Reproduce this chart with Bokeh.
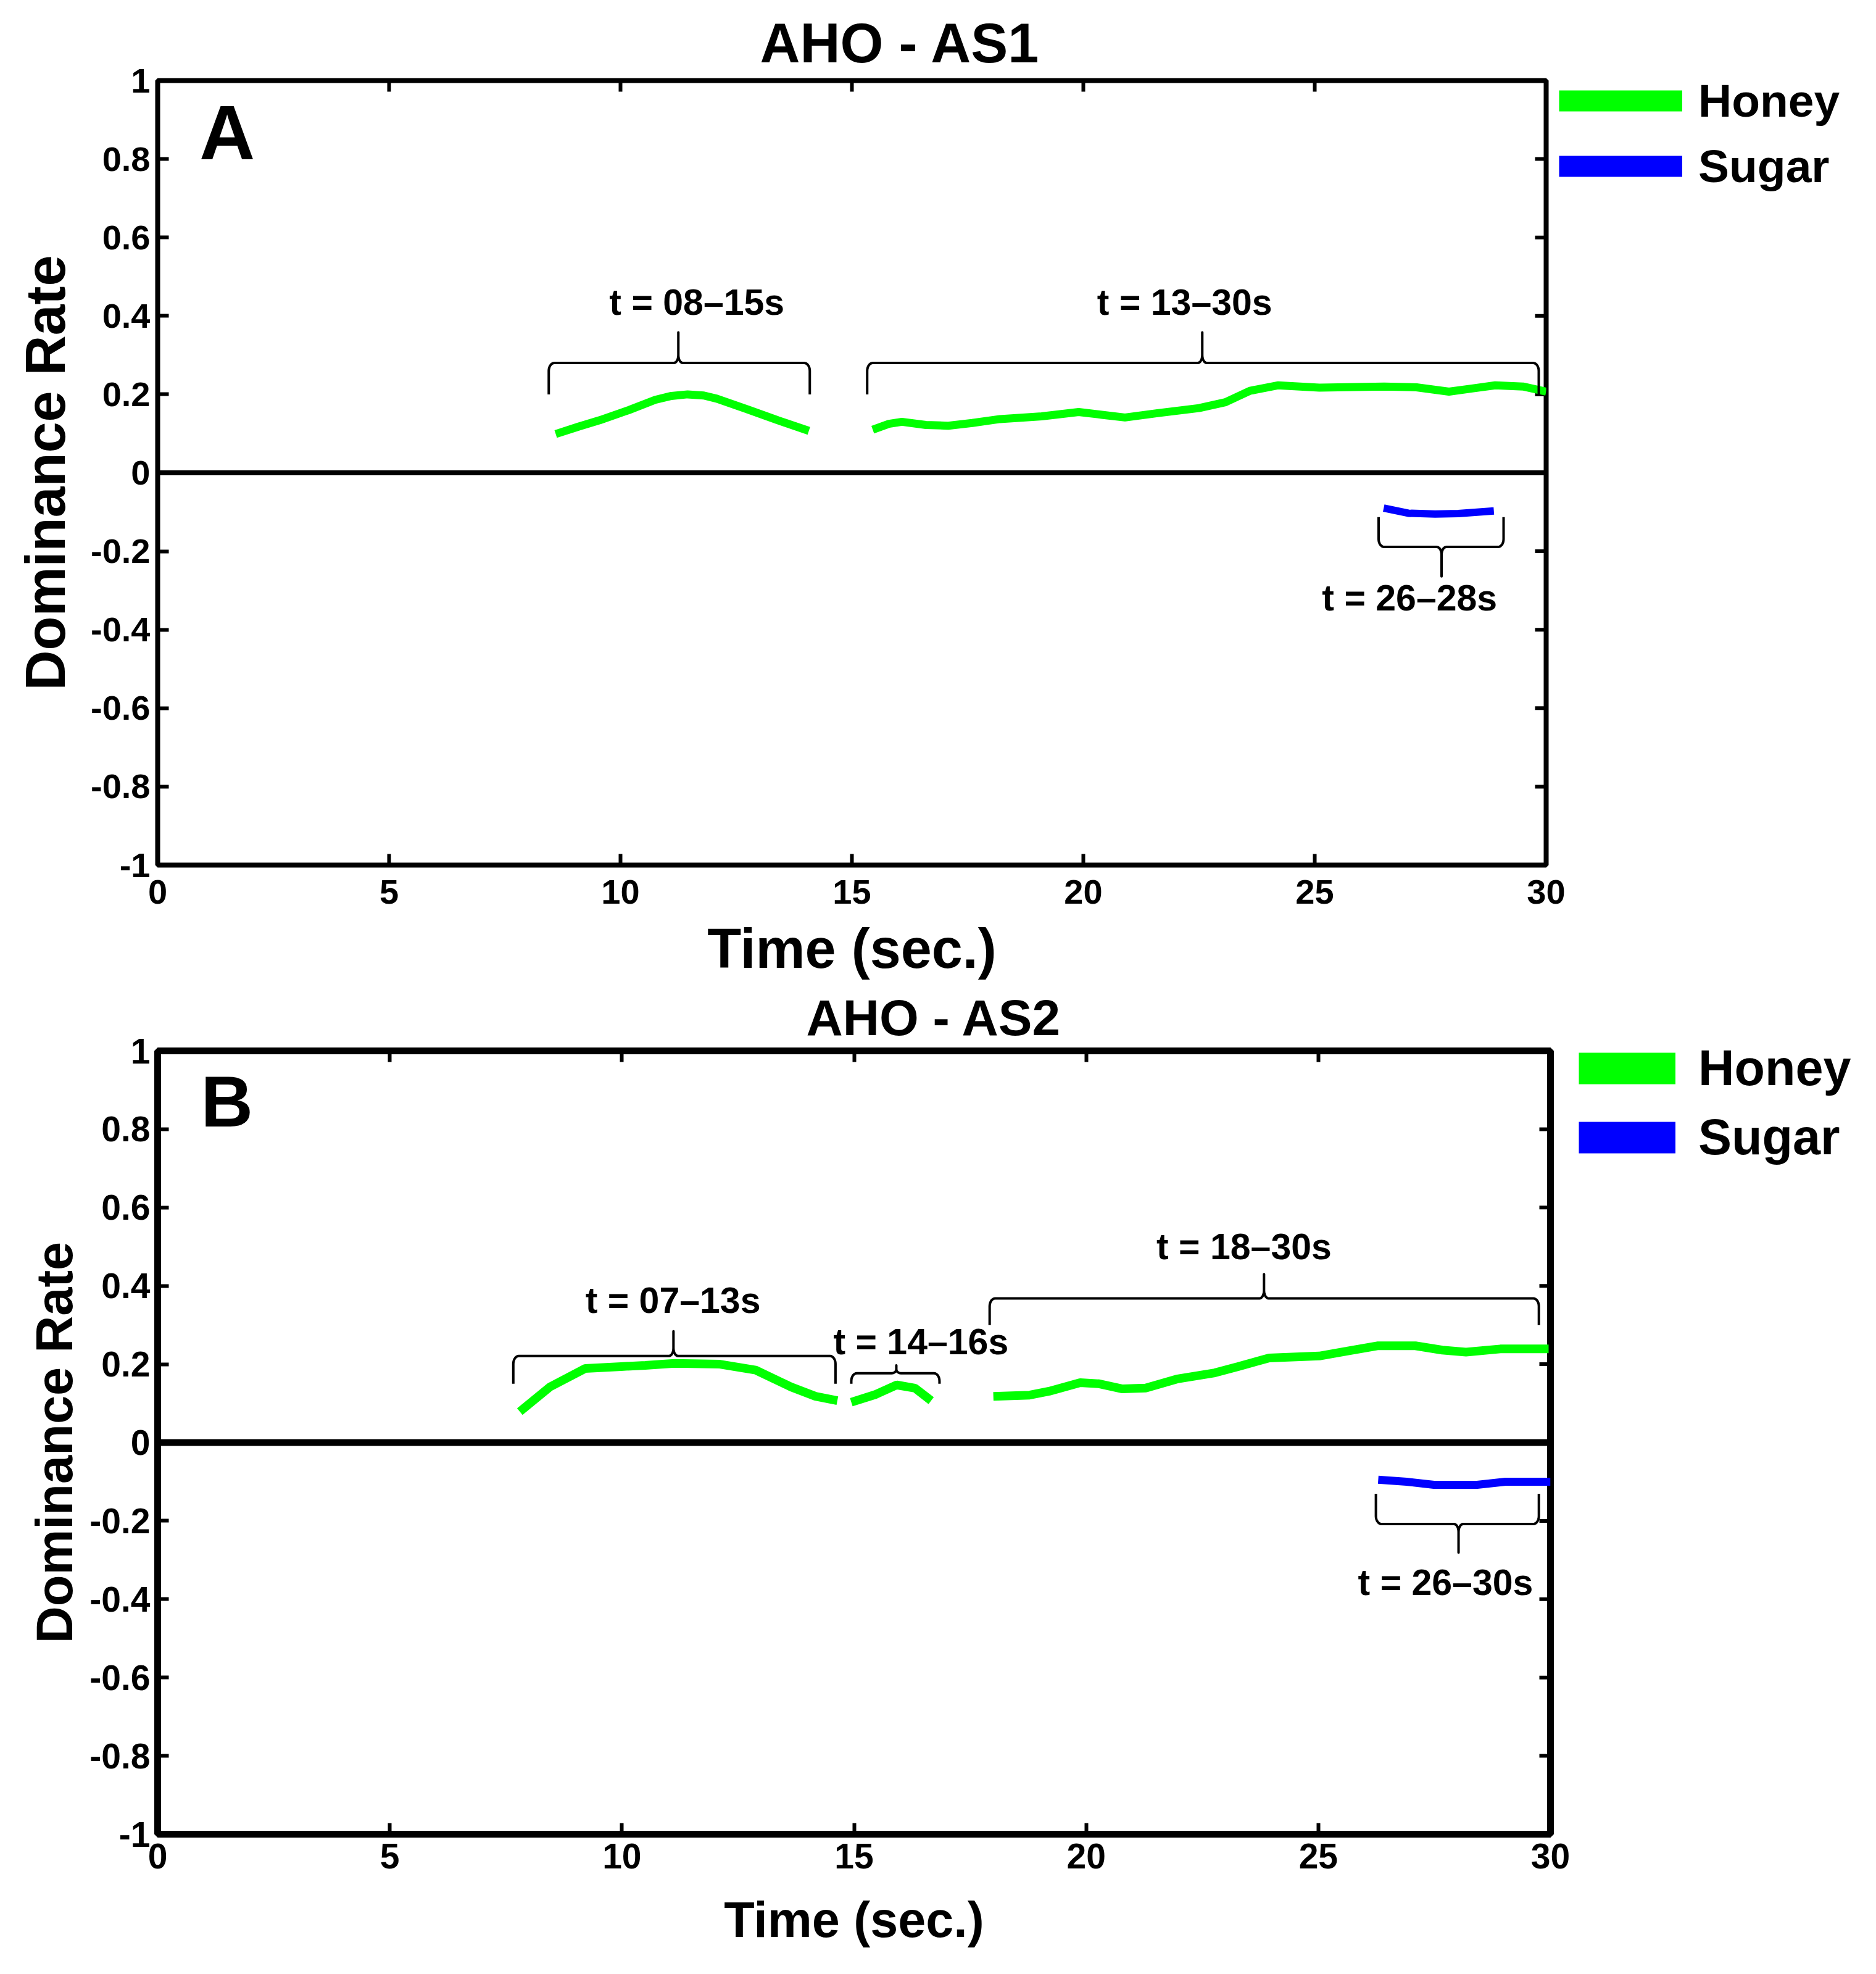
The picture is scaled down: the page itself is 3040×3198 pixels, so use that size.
import numpy as np
from bokeh.plotting import figure
from bokeh.models import (ColumnDataSource, LinearAxis, FixedTicker, PrintfTickFormatter,
                          Span, Label, Legend, LegendItem, Range1d)
from bokeh.layouts import column
from bokeh.core.properties import value
from bokeh.embed import file_html
from bokeh.resources import INLINE

FONT = "Liberation Sans"
GREEN = "#00ff00"
BLUE = "#0000ff"

x_ticks = [0, 5, 10, 15, 20, 25, 30]
y_ticks = [-1, -0.8, -0.6, -0.4, -0.2, 0, 0.2, 0.4, 0.6, 0.8, 1]

# --- panel A: AHO - AS1 ---
a_honey1_t = [8.60, 9.10, 9.55, 10.18, 10.75, 11.10, 11.45, 11.80, 12.08, 12.74, 13.40, 14.07]
a_honey1_v = [0.099, 0.118, 0.134, 0.160, 0.186, 0.196, 0.200, 0.197, 0.189, 0.162, 0.134, 0.107]
a_honey2_t = [15.45, 15.80, 16.08, 16.60, 17.08, 17.60, 18.20, 19.10, 19.90, 20.40, 20.90, 21.60,
              22.50, 23.07, 23.60, 24.20, 25.10, 26.50, 27.20, 27.90, 28.40, 28.90, 29.50, 30.00]
a_honey2_v = [0.110, 0.125, 0.130, 0.122, 0.120, 0.127, 0.137, 0.144, 0.155, 0.148, 0.141, 0.152,
              0.165, 0.180, 0.209, 0.223, 0.217, 0.220, 0.218, 0.207, 0.215, 0.223, 0.220, 0.207]
a_sugar_t = [26.49, 27.02, 27.60, 28.10, 28.87]
a_sugar_v = [-0.090, -0.103, -0.105, -0.104, -0.097]

a_br_start = [8.45, 15.33, 26.38]
a_br_end = [14.09, 29.84, 29.08]
a_br_mid = [11.25, 22.57, 27.74]
a_br_arm = [0.20, 0.20, -0.113]
a_br_bar = [0.28, 0.28, -0.189]
a_br_tip = [0.358, 0.358, -0.264]
a_lab_text = ["t = 08–15s", "t = 13–30s", "t = 26–28s"]
a_lab_t = [11.65, 22.19, 27.05]
a_lab_v = [0.435, 0.435, -0.32]

# --- panel B: AHO - AS2 ---
b_honey1_t = [7.80, 8.45, 9.21, 9.98, 10.50, 11.13, 12.11, 12.88, 13.64, 14.17, 14.64]
b_honey1_v = [0.079, 0.142, 0.189, 0.194, 0.197, 0.202, 0.200, 0.185, 0.142, 0.118, 0.107]
b_honey2_t = [14.94, 15.47, 15.92, 16.31, 16.66]
b_honey2_v = [0.103, 0.123, 0.147, 0.139, 0.107]
b_honey3_t = [18.00, 18.78, 19.20, 19.87, 20.28, 20.78, 21.28, 21.95, 22.77, 23.27, 23.94, 25.02,
              25.60, 26.27, 27.09, 27.67, 28.18, 28.92, 29.96]
b_honey3_v = [0.118, 0.121, 0.131, 0.153, 0.150, 0.137, 0.139, 0.162, 0.178, 0.194, 0.216, 0.221,
              0.233, 0.247, 0.247, 0.236, 0.231, 0.239, 0.239]
b_sugar_t = [26.29, 26.90, 27.49, 28.42, 29.03, 30.00]
b_sugar_v = [-0.095, -0.100, -0.108, -0.108, -0.100, -0.100]

b_br_start = [7.66, 14.94, 17.92, 26.24]
b_br_end = [14.60, 16.84, 29.75, 29.75]
b_br_mid = [11.11, 15.91, 23.83, 28.02]
b_br_arm = [0.15, 0.15, 0.30, -0.131]
b_br_bar = [0.221, 0.177, 0.368, -0.208]
b_br_tip = [0.284, 0.197, 0.43, -0.281]
b_lab_text = ["t = 07–13s", "t = 14–16s", "t = 18–30s", "t = 26–30s"]
b_lab_t = [11.10, 16.44, 23.40, 27.74]
b_lab_v = [0.363, 0.257, 0.50, -0.358]


def brace(x0, x1, xm, y_arm, y_bar, y_tip, rx=0.12, ry=0.02, cx=0.10, cy=0.02):
    # curly bracket path in data units; tip points away from the arms
    d = 1.0 if y_tip > y_bar else -1.0
    ry = min(ry, abs(y_bar - y_arm) * 0.8)
    cy = min(cy, abs(y_tip - y_bar) * 0.5)
    q = np.linspace(0, np.pi / 2, 8)
    xs = [x0]
    rel = [(y_arm - y_bar) * d]
    th = np.pi - q
    xs += list(x0 + rx + rx * np.cos(th)); rel += list(-ry + ry * np.sin(th))
    th = -np.pi / 2 + q
    xs += list(xm - cx + cx * np.cos(th)); rel += list(cy + cy * np.sin(th))
    xs += [xm]; rel += [(y_tip - y_bar) * d]
    th = np.pi + q
    xs += list(xm + cx + cx * np.cos(th)); rel += list(cy + cy * np.sin(th))
    th = np.pi / 2 - q
    xs += list(x1 - rx + rx * np.cos(th)); rel += list(-ry + ry * np.sin(th))
    xs += [x1]; rel += [(y_arm - y_bar) * d]
    return xs, [y_bar + d * r for r in rel]


def make_panel(title, honey, sugar, brackets, labels, letter, g):
    p = figure(frame_width=g["fw"], frame_height=g["fh"],
               x_range=Range1d(0, 30), y_range=Range1d(-1, 1),
               output_backend="svg", toolbar_location=None, tools="",
               min_border_left=g["left"], min_border_right=g["right"],
               min_border_top=g["top"], min_border_bottom=g["bottom"])
    p.background_fill_color = "white"
    p.border_fill_color = "white"
    p.xgrid.grid_line_color = None
    p.ygrid.grid_line_color = None
    p.outline_line_color = "black"
    p.outline_line_width = g["lw"]
    p.outline_line_alpha = 1

    p.title.text = title
    p.title.align = "left"
    p.title.offset = g["title_offset"]
    p.title.text_font = FONT
    p.title.text_font_style = "bold"
    p.title.text_font_size = g["title_size"]
    p.title.text_color = "black"
    p.title.standoff = g["title_standoff"]

    for ax, dim in ((p.xaxis[0], "x"), (p.yaxis[0], "y")):
        ax.ticker = FixedTicker(ticks=x_ticks if dim == "x" else y_ticks)
        ax.formatter = PrintfTickFormatter(format="%g")
        ax.axis_line_color = None
        ax.major_tick_in = 18
        ax.major_tick_out = 0
        ax.major_tick_line_width = 6
        ax.minor_tick_line_color = None
        ax.major_label_text_font = FONT
        ax.major_label_text_font_style = "bold"
        ax.major_label_text_font_size = g["tick_size"]
        ax.major_label_text_color = "black"
        ax.axis_label_text_font = FONT
        ax.axis_label_text_font_style = "bold"
        ax.axis_label_text_color = "black"
    p.xaxis.axis_label = "Time (sec.)"
    p.yaxis.axis_label = "Dominance Rate"
    p.xaxis.axis_label_text_font_size = g["xlabel_size"]
    p.yaxis.axis_label_text_font_size = g["ylabel_size"]
    p.xaxis.major_label_standoff = g["xtick_standoff"]
    p.xaxis.axis_label_standoff = g["xlabel_standoff"]
    p.yaxis.major_label_standoff = 12
    p.yaxis.axis_label_standoff = g["ylabel_standoff"]

    # mirrored tick marks on the top edge (unlabelled axis) and the right edge
    top_ax = LinearAxis(ticker=FixedTicker(ticks=x_ticks), axis_line_color=None,
                        major_tick_in=18, major_tick_out=0, major_tick_line_width=6,
                        minor_tick_line_color=None, major_label_text_font_size="1px",
                        major_label_text_color=None, major_label_standoff=0)
    p.add_layout(top_ax, "above")
    p.ray(x=[x_ticks[-1]] * len(y_ticks), y=y_ticks, length=18, length_units="screen",
          angle=np.pi, line_color="black", line_width=6)

    p.add_layout(Span(location=0, dimension="width", line_color="black", line_width=g["lw"]))

    for seg_t, seg_v in honey:
        p.line(seg_t, seg_v, line_color=GREEN, line_width=g["curve_w"])
    p.line(sugar[0], sugar[1], line_color=BLUE, line_width=g["curve_w"] - 1)

    bxs, bys = [], []
    for x0, x1, xm, ya, yb, yt in zip(*brackets):
        xs, ys = brace(x0, x1, xm, ya, yb, yt)
        bxs.append(xs)
        bys.append(ys)
    p.multi_line(xs=bxs, ys=bys, line_color="black", line_width=4, line_join="round")

    lab_src = ColumnDataSource(dict(x=labels[1], y=labels[2], text=labels[0]))
    p.text(x="x", y="y", text="text", source=lab_src, text_align="center",
           text_baseline="middle", text_font=value(FONT), text_font_style="bold",
           text_font_size=g["ann_size"], text_color="black")

    p.add_layout(Label(x=letter[1], y=letter[2], text=letter[0], text_font=FONT,
                       text_font_style="bold", text_font_size=g["letter_size"],
                       text_color="black", text_baseline="alphabetic", text_align="left"))

    # legend swatches: thick bars, like the original key
    honey_key = p.line([np.nan], [np.nan], line_color=GREEN, line_width=g["key_w"])
    sugar_key = p.line([np.nan], [np.nan], line_color=BLUE, line_width=g["key_w"])
    legend = Legend(items=[LegendItem(label="Honey", renderers=[honey_key]),
                           LegendItem(label="Sugar", renderers=[sugar_key])],
                    location=g["key_loc"], orientation="vertical", margin=0, padding=0,
                    glyph_width=g["key_len"], glyph_height=g["key_h"], label_height=g["key_h"],
                    label_standoff=g["key_gap"], spacing=g["key_space"],
                    border_line_color=None, background_fill_alpha=0,
                    label_text_font=FONT, label_text_font_style="bold",
                    label_text_font_size=g["key_size"], label_text_color="black")
    p.add_layout(legend, "right")
    return p


geom_a = dict(fw=2250, fh=1271, left=255, right=250, top=130, bottom=184, lw=8,
              title_offset=976, title_size="90px", title_standoff=22, tick_size="56px",
              xlabel_size="90px", ylabel_size="90px", xtick_standoff=24, xlabel_standoff=20,
              ylabel_standoff=20, ann_size="59px", letter_size="125px", curve_w=13,
              key_w=34, key_len=200, key_h=86, key_gap=26, key_space=20, key_size="75px",
              key_loc=(21, 1089))
geom_b = dict(fw=2257, fh=1269, left=255, right=250, top=113, bottom=202, lw=11,
              title_offset=1051, title_size="82px", title_standoff=17, tick_size="57px",
              xlabel_size="81px", ylabel_size="83px", xtick_standoff=15, xlabel_standoff=35,
              ylabel_standoff=7, ann_size="59px", letter_size="117px", curve_w=14,
              key_w=51, key_len=157, key_h=93, key_gap=37, key_space=19, key_size="81px",
              key_loc=(46, 1082))

panel_a = make_panel("AHO - AS1",
                     [(a_honey1_t, a_honey1_v), (a_honey2_t, a_honey2_v)],
                     (a_sugar_t, a_sugar_v),
                     (a_br_start, a_br_end, a_br_mid, a_br_arm, a_br_bar, a_br_tip),
                     (a_lab_text, a_lab_t, a_lab_v),
                     ("A", 0.90, 0.868), geom_a)
panel_b = make_panel("AHO - AS2",
                     [(b_honey1_t, b_honey1_v), (b_honey2_t, b_honey2_v), (b_honey3_t, b_honey3_v)],
                     (b_sugar_t, b_sugar_v),
                     (b_br_start, b_br_end, b_br_mid, b_br_arm, b_br_bar, b_br_tip),
                     (b_lab_text, b_lab_t, b_lab_v),
                     ("B", 0.93, 0.870), geom_b)

p = column(panel_a, panel_b)
open("out.html", "w").write(file_html(p, INLINE))
